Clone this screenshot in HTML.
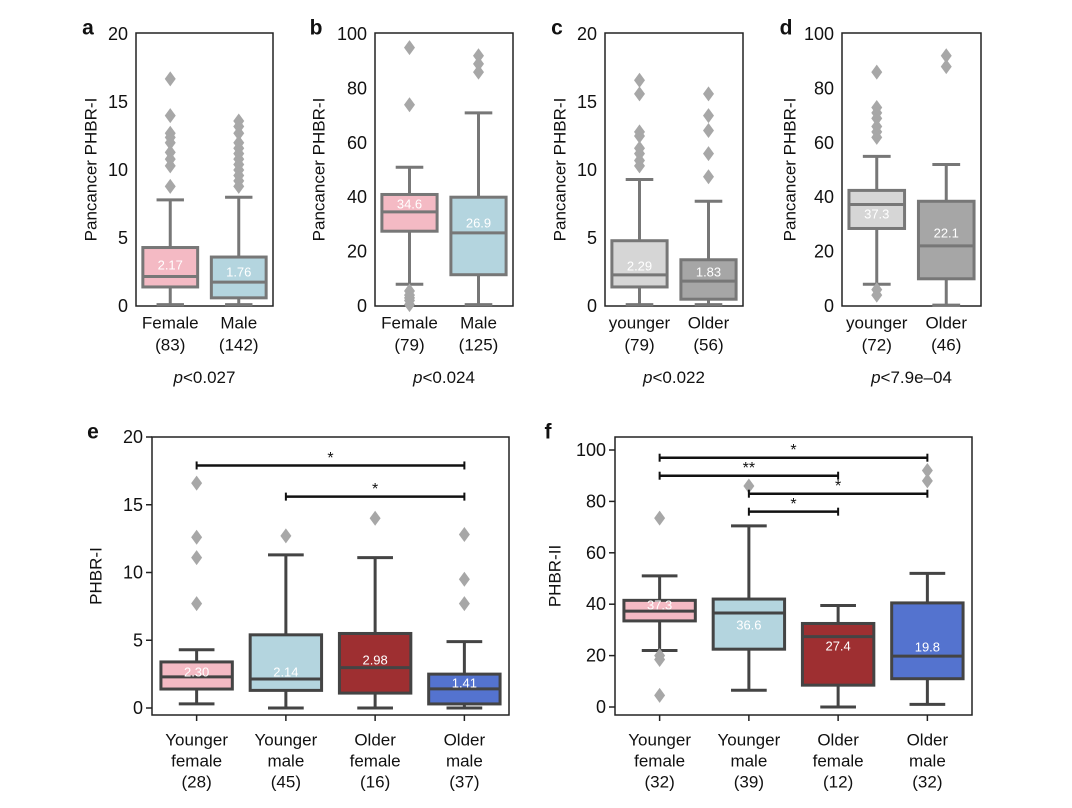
<!DOCTYPE html>
<html><head><meta charset="utf-8">
<style>
body{margin:0;background:#fff;}
svg text{font-family:"Liberation Sans",Arial,sans-serif;}
</style></head>
<body>
<svg id="fig" width="1072" height="803" viewBox="0 0 1072 803" xmlns="http://www.w3.org/2000/svg"></svg>
<script>
// ---- data: panel a ----
const aCats=["Female","Male"], aNs=["(83)","(142)"];
const aLow=[0.1,0.1], aQ1=[1.4,0.6], aMed=[2.17,1.76], aQ3=[4.3,3.6], aHigh=[7.8,8.0];
const aOut=[[8.8,10.3,10.8,11.3,12.0,12.4,12.7,14.0,16.7],[8.8,9.2,9.6,10.0,10.4,10.8,11.2,11.6,12.0,12.7,13.2,13.6]];
const aLabVal=[3.0,2.5], aLabels=["2.17","1.76"];
// ---- panel b ----
const bCats=["Female","Male"], bNs=["(79)","(125)"];
const bLow=[8,0.5], bQ1=[27.5,11.5], bMed=[34.6,26.9], bQ3=[41,40], bHigh=[51,71];
const bOut=[[0.5,2,3,4,5.5,74,95],[86,89,92]];
const bLabVal=[37.5,30.5], bLabels=["34.6","26.9"];
// ---- panel c ----
const cCats=["younger","Older"], cNs=["(79)","(56)"];
const cLow=[0.1,0.1], cQ1=[1.4,0.5], cMed=[2.29,1.83], cQ3=[4.8,3.4], cHigh=[9.3,7.7];
const cOut=[[10.3,10.7,11.2,11.6,12.5,12.8,15.6,16.6],[9.5,11.2,12.9,14.0,15.6]];
const cLabVal=[2.95,2.5], cLabels=["2.29","1.83"];
// ---- panel d ----
const dCats=["younger","Older"], dNs=["(72)","(46)"];
const dLow=[8,0.3], dQ1=[28.5,10], dMed=[37.3,22.1], dQ3=[42.5,38.5], dHigh=[55,52];
const dOut=[[4,6,62,64,66,69,71,73,86],[88,92]];
const dLabVal=[33.8,26.8], dLabels=["37.3","22.1"];
// ---- panel e ----
const eCats=[["Younger","female","(28)"],["Younger","male","(45)"],["Older","female","(16)"],["Older","male","(37)"]];
const eLow=[0.3,0,0,0], eQ1=[1.4,1.3,1.1,0.3], eMed=[2.30,2.14,2.98,1.41], eQ3=[3.4,5.4,5.5,2.5], eHigh=[4.3,11.3,11.1,4.9];
const eOut=[[7.7,11.1,12.6,16.6],[12.7],[14.0],[7.7,9.5,12.8]];
const eLabVal=[2.65,2.65,3.55,1.85], eLabels=["2.30","2.14","2.98","1.41"];
const eBrFrom=[0,1], eBrTo=[3,3], eBrY=[17.9,15.6], eBrTxt=["*","*"];
// ---- panel f ----
const fCats=[["Younger","female","(32)"],["Younger","male","(39)"],["Older","female","(12)"],["Older","male","(32)"]];
const fLow=[22,6.5,0,1], fQ1=[33.5,22.5,8.5,11], fMed=[37.3,36.6,27.4,19.8], fQ3=[41.5,42,32.5,40.5], fHigh=[51,70.5,39.5,52];
const fOut=[[4.5,18.5,20,73.5],[86],[],[88,92]];
const fLabVal=[39.7,32,23.7,23.3], fLabels=["37.3","36.6","27.4","19.8"];
const fBrFrom=[0,0,1,1], fBrTo=[3,2,3,2], fBrY=[97,90,83,76], fBrTxt=["*","**","*","*"];

const svg=document.getElementById('fig');
const NS="http://www.w3.org/2000/svg";
function mk(tag,attrs,parent){const e=document.createElementNS(NS,tag);for(const k in attrs)e.setAttribute(k,attrs[k]);(parent||svg).appendChild(e);return e;}
function txt(x,y,s,size,anchor,parent,extra){const t=mk('text',Object.assign({x:x,y:y,'font-size':size,'text-anchor':anchor||'middle','dominant-baseline':'central',fill:'#111'},extra||{}),parent);t.textContent=s;return t;}

function panel(p){
  const g=mk('g',{});
  
  
  const yS=v=>p.y0-(v-p.vmin)/(p.vmax-p.vmin)*(p.y0-p.y1);
  const n=p.low.length, W=p.x1-p.x0;
  const xS=i=>p.x0+W*(i+0.5)/n;
  const fr=mk('rect',{x:p.x0,y:p.top,width:W,height:p.bottom-p.top,fill:'none',stroke:'#222','stroke-width':1.5},g);
  
  
  p.ticks.forEach(t=>{
    const y=yS(t);
    if(p.tickMarks){mk('line',{x1:p.x0-6,x2:p.x0,y1:y,y2:y,stroke:'#222','stroke-width':1.5},g);}
    const tl=txt(p.x0-(p.tickMarks?9:8),y,String(t),18,'end',g);
    
    
  });
  const bw=W*p.bwFrac;
  for(let i=0;i<n;i++){
    const cx=xS(i);
    const bg=mk('g',{},g);
    
    
    const sc=p.stroke;
    mk('line',{x1:cx,x2:cx,y1:yS(p.low[i]),y2:yS(p.q1[i]),stroke:sc,'stroke-width':3},bg);
    mk('line',{x1:cx,x2:cx,y1:yS(p.q3[i]),y2:yS(p.high[i]),stroke:sc,'stroke-width':3},bg);
    mk('line',{x1:cx-bw/4,x2:cx+bw/4,y1:yS(p.low[i]),y2:yS(p.low[i]),stroke:sc,'stroke-width':3},bg);
    mk('line',{x1:cx-bw/4,x2:cx+bw/4,y1:yS(p.high[i]),y2:yS(p.high[i]),stroke:sc,'stroke-width':3},bg);
    mk('rect',{x:cx-bw/2,y:yS(p.q3[i]),width:bw,height:yS(p.q1[i])-yS(p.q3[i]),fill:p.colors[i],stroke:sc,'stroke-width':3},bg);
    mk('line',{x1:cx-bw/2,x2:cx+bw/2,y1:yS(p.med[i]),y2:yS(p.med[i]),stroke:sc,'stroke-width':3},bg);
    p.out[i].forEach(v=>{
      const y=yS(v);
      const d=mk('polygon',{points:`${cx},${y-7.5} ${cx+5.5},${y} ${cx},${y+7.5} ${cx-5.5},${y}`,fill:'#a7a7a7'},bg);
      
      
    });
    const vl=txt(cx,yS(p.labVal[i]),p.labels[i],13,'middle',bg,{fill:'#fff'});
    
    
    if(p.tickMarks){mk('line',{x1:cx,x2:cx,y1:p.bottom,y2:p.bottom+6,stroke:'#222','stroke-width':1.5},g);}
    p.cats[i].forEach((s,k)=>{
      const cl=txt(cx,p.catY+k*p.catDy,s,17,'middle',g);
      
      
    });
  }
  if(p.brFrom){
    for(let j=0;j<p.brFrom.length;j++){
      const xa=xS(p.brFrom[j]), xb=xS(p.brTo[j]), y=yS(p.brY[j]);
      const br=mk('g',{},g);
      
      
      mk('line',{x1:xa,x2:xb,y1:y,y2:y,stroke:'#111','stroke-width':2.5},br);
      mk('line',{x1:xa,x2:xa,y1:y-4,y2:y+4,stroke:'#111','stroke-width':2},br);
      mk('line',{x1:xb,x2:xb,y1:y-4,y2:y+4,stroke:'#111','stroke-width':2},br);
      txt((xa+xb)/2,y-7,p.brTxt[j],16,'middle',br);
    }
  }
  const cy=(p.top+p.bottom)/2;
  const yt=txt(p.ytX,cy,p.ytitle,17,'middle',g,{transform:`rotate(-90 ${p.ytX} ${cy})`});
  
  
  const pl=txt(p.letter[1],p.letter[2],p.letter[0],21,'middle',g,{'font-weight':'bold'});
  
  
  if(p.pval){
    const pt=mk('text',{x:(p.x0+p.x1)/2,y:377,'font-size':17,'text-anchor':'middle','dominant-baseline':'central',fill:'#111'},g);
    
    
    const ts=mk('tspan',{'font-style':'italic'},pt);ts.textContent='p';
    const ts2=mk('tspan',{},pt);ts2.textContent=p.pval;
  }
}
function zip(a,b){return a.map((c,i)=>[c,b[i]]);}
const topCfg={top:33,bottom:306,y0:306,y1:34,catY:323,catDy:22,bwFrac:0.4,stroke:'#777',tickMarks:false,ytitle:'Pancancer PHBR-I'};
panel(Object.assign({},topCfg,{name:'panel-a',x0:136,x1:273,vmin:0,vmax:20,ticks:[0,5,10,15,20],low:aLow,q1:aQ1,med:aMed,q3:aQ3,high:aHigh,out:aOut,labVal:aLabVal,labels:aLabels,cats:zip(aCats,aNs),colors:['#f4bac4','#b4d5df'],ytX:91,letter:['a',88,28],pval:'<0.027'}));
panel(Object.assign({},topCfg,{name:'panel-b',x0:375,x1:513,vmin:0,vmax:100,ticks:[0,20,40,60,80,100],low:bLow,q1:bQ1,med:bMed,q3:bQ3,high:bHigh,out:bOut,labVal:bLabVal,labels:bLabels,cats:zip(bCats,bNs),colors:['#f4bac4','#b4d5df'],ytX:319,letter:['b',316,28],pval:'<0.024'}));
panel(Object.assign({},topCfg,{name:'panel-c',x0:605,x1:743,vmin:0,vmax:20,ticks:[0,5,10,15,20],low:cLow,q1:cQ1,med:cMed,q3:cQ3,high:cHigh,out:cOut,labVal:cLabVal,labels:cLabels,cats:zip(cCats,cNs),colors:['#d6d6d6','#a6a6a6'],ytX:560,letter:['c',557,28],pval:'<0.022'}));
panel(Object.assign({},topCfg,{name:'panel-d',x0:842,x1:981,vmin:0,vmax:100,ticks:[0,20,40,60,80,100],low:dLow,q1:dQ1,med:dMed,q3:dQ3,high:dHigh,out:dOut,labVal:dLabVal,labels:dLabels,cats:zip(dCats,dNs),colors:['#d6d6d6','#a6a6a6'],ytX:790,letter:['d',786,28],pval:'<7.9e\u201304'}));
const botCfg={top:437,bottom:715,catY:740,catDy:21,bwFrac:0.2,stroke:'#444',tickMarks:true};
panel(Object.assign({},botCfg,{name:'panel-e',x0:152,x1:509,y0:708,y1:437,vmin:0,vmax:20,ticks:[0,5,10,15,20],low:eLow,q1:eQ1,med:eMed,q3:eQ3,high:eHigh,out:eOut,labVal:eLabVal,labels:eLabels,cats:eCats,colors:['#f4bac4','#b4d5df','#9e2f31','#5473cf'],brFrom:eBrFrom,brTo:eBrTo,brY:eBrY,brTxt:eBrTxt,ytitle:'PHBR-I',ytX:96,letter:['e',93,432]}));
panel(Object.assign({},botCfg,{name:'panel-f',x0:615,x1:972,y0:707,y1:450,vmin:0,vmax:100,ticks:[0,20,40,60,80,100],low:fLow,q1:fQ1,med:fMed,q3:fQ3,high:fHigh,out:fOut,labVal:fLabVal,labels:fLabels,cats:fCats,colors:['#f4bac4','#b4d5df','#9e2f31','#5473cf'],brFrom:fBrFrom,brTo:fBrTo,brY:fBrY,brTxt:fBrTxt,ytitle:'PHBR-II',ytX:555,letter:['f',548,432]}));
</script>
</body></html>
